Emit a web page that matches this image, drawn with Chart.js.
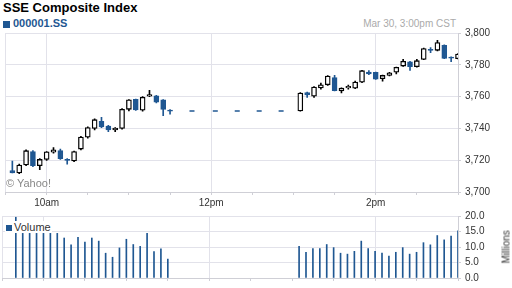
<!DOCTYPE html>
<html>
<head>
<meta charset="utf-8">
<script src="https://cdn.jsdelivr.net/npm/chart.js@4.4.1/dist/chart.umd.min.js"></script>
<style>
  html, body { margin: 0; padding: 0; background: #fff; }
  body { width: 512px; height: 288px; position: relative; overflow: hidden; font-family: 'Liberation Sans', Arial, sans-serif; }
  .abs { position: absolute; white-space: nowrap; }
  #title { left: 3px; top: 0; font-size: 13px; font-weight: bold; line-height: 15px; color: #000; }
  #sym { left: 13px; top: 17px; font-size: 11px; font-weight: bold; line-height: 13px; color: #1f5792; }
  #symBox { left: 3px; top: 21px; width: 7px; height: 7px; background: #1f5792; }
  #stamp { right: 56px; top: 18px; font-size: 10px; line-height: 12px; color: #aaa; }
  #yahoo { left: 6px; top: 177px; font-size: 11px; line-height: 13px; color: #888; }
  #volLeg { left: 5px; top: 221px; padding: 0 1px; background: #fff; font-size: 11px; line-height: 12px; color: #333; }
  #volLeg i { display: inline-block; width: 6px; height: 6px; background: #1f5792; margin-right: 2px; vertical-align: 0; }
  #mil { left: 490px; top: 241px; width: 33px; font-size: 10px; line-height: 12px; color: #333; transform: rotate(-90deg); text-align: center; }
  canvas { position: absolute; left: 0; }
</style>
</head>
<body>
<div class="abs" id="title">SSE Composite Index</div>
<div class="abs" id="symBox"></div>
<div class="abs" id="sym">000001.SS</div>
<div class="abs" id="stamp">Mar 30, 3:00pm CST</div>
<div style="position:absolute;left:0;top:0;width:512px;height:210px"><canvas id="price"></canvas></div>
<div style="position:absolute;left:0;top:205px;width:512px;height:83px"><canvas id="vol"></canvas></div>
<div class="abs" id="yahoo">© Yahoo!</div>
<div class="abs" id="volLeg"><i></i>Volume</div>
<div class="abs" id="mil">Millions</div>
<script>
// ========== DATA ==========
// minutes after 9:30 (5-minute candles; lunch break 11:30 - 13:00)
const candleMin = [5, 10, 15, 20, 25, 30, 35, 40, 45, 50, 55, 60, 65, 70, 75, 80, 85, 90, 95, 100, 105, 110, 115, 120,
                   215, 220, 225, 230, 235, 240, 245, 250, 255, 260, 265, 270, 275, 280, 285, 290, 295, 300, 305, 310, 315, 320, 325, 330];
const opens  = [3713.5, 3712, 3717, 3725.5, 3716.5, 3720.5, 3725, 3726, 3720.5, 3719.5, 3727, 3734.5, 3740, 3744.5, 3741.5, 3739, 3740, 3752, 3758.3, 3751.5, 3760.2, 3760.5, 3758, 3751.6,
                3751, 3762.5, 3760.2, 3765.4, 3767.4, 3772, 3763.6, 3765.5, 3765.3, 3769.1, 3775.5, 3775.2, 3771.2, 3773.3, 3775.4, 3779.2, 3781.9, 3778.8, 3783.4, 3789.8, 3789.1, 3792.3, 3784.8, 3783.9];
const highs  = [3719.5, 3717.5, 3726.5, 3726, 3721, 3725.5, 3728, 3727, 3721, 3725.8, 3735, 3741, 3746, 3747, 3742, 3740.5, 3752.5, 3758.2, 3758.5, 3760, 3764, 3760.8, 3758.2, 3751.8,
                3762.5, 3762.8, 3766.3, 3768.5, 3773.2, 3773.3, 3765.5, 3767.2, 3769.8, 3776.5, 3776.3, 3775.4, 3773.5, 3775.3, 3778.6, 3783.4, 3782.2, 3783.5, 3790.5, 3790.8, 3795.4, 3792.5, 3785, 3787];
const lows   = [3712, 3711.5, 3716.5, 3716, 3714, 3719.8, 3724.5, 3720.5, 3717.5, 3719, 3726.5, 3733.8, 3739, 3740.5, 3738, 3738, 3739.5, 3751, 3751.3, 3750.8, 3760, 3756, 3748, 3749,
                3750.8, 3759.5, 3759.5, 3764.7, 3767, 3763.5, 3762.3, 3764.7, 3765, 3768.8, 3773.8, 3770.8, 3769.7, 3773, 3774.2, 3779, 3776.5, 3778.5, 3783.2, 3787.7, 3788.8, 3783.8, 3782, 3783.7];
const closes = [3712, 3717, 3726, 3716.5, 3720.5, 3725.3, 3726.5, 3721, 3719.8, 3725.5, 3734.5, 3740.5, 3745.5, 3741, 3739, 3740.2, 3752, 3758, 3751.6, 3759.5, 3761.2, 3756.5, 3752, 3750.8,
                3762.2, 3761, 3766, 3767.4, 3772.9, 3763.8, 3765.3, 3766.5, 3769.1, 3776.3, 3774.2, 3771, 3773.3, 3775, 3778.4, 3782.2, 3778.8, 3782.6, 3790.2, 3789, 3794, 3784, 3784.2, 3786.8];

// flat quotes during the lunch break
const lunchMin = [136, 153, 169, 185, 201];
const lunchPrice = [3751, 3751, 3751, 3751, 3751];

// volume, millions
const volMin = [10, 15, 20, 25, 30, 35, 40, 45, 50, 55, 60, 65, 70, 75, 80, 85, 90, 95, 100, 105, 110, 115, 120,
                215, 220, 225, 230, 235, 240, 245, 250, 255, 260, 265, 270, 275, 280, 285, 290, 295, 300, 305, 310, 315, 320, 325, 330];
const volumes = [19.6, 14.4, 14.4, 14.4, 14.4, 14.4, 14.4, 12.9, 10.7, 13.1, 11.6, 12.9, 11.9, 8.0, 6.7, 9.7, 12.5, 10.8, 10.2, 14.4, 8.5, 9.4, 6.1,
                 10.2, 8.3, 9.5, 9.5, 10.8, 9.8, 8.0, 7.7, 8.6, 11.9, 9.5, 8.6, 8.0, 7.1, 8.3, 9.8, 7.7, 8.3, 11.4, 10.7, 13.7, 12.3, 13.5, 15.2];

const timeLabels = { 30: '10am', 150: '12pm', 270: '2pm' };
const priceTicks = [3700, 3720, 3740, 3760, 3780, 3800];

// ========== STYLE ==========
const BLUE = '#1f5792';
const GRID = '#e2e2ea';
const FRAME = '#cfcfd6';

Chart.defaults.font.family = "'Liberation Sans', Arial, sans-serif";
Chart.defaults.font.size = 10;
Chart.defaults.color = '#333';
Chart.defaults.animation = false;

const up = opens.map((o, i) => closes[i] >= o);

function xAxis(showLabels, height) {
    return {
        type: 'linear', min: 0, max: 330, offset: false,
        afterBuildTicks: s => { s.ticks = []; for (let v = 0; v <= 330; v += 30) s.ticks.push({ value: v }); },
        afterFit: s => { s.height = height; },
        grid: {
            offset: false,
            color: c => (c.tick && (timeLabels[c.tick.value] || c.tick.value === 0 || c.tick.value === 330)) ? GRID : 'rgba(0,0,0,0)',
            tickColor: FRAME, tickLength: 3
        },
        border: { color: FRAME },
        ticks: { display: showLabels, autoSkip: false, maxRotation: 0, padding: 2, callback: v => timeLabels[v] || '' }
    };
}

// ========== PRICE CHART ==========
new Chart(document.getElementById('price'), {
    type: 'bar',
    data: {
        datasets: [
            {
                label: 'body', grouped: false, barThickness: 5, borderWidth: 1.3, borderSkipped: false, clip: 0,
                data: candleMin.map((m, i) => ({ x: m, y: [opens[i], closes[i]] })),
                backgroundColor: c => up[c.dataIndex] ? '#fff' : BLUE,
                borderColor: c => up[c.dataIndex] ? '#000' : BLUE
            },
            {
                label: 'wick', grouped: false, barThickness: 1, borderWidth: 0, clip: 0,
                data: candleMin.map((m, i) => ({ x: m, y: [lows[i], highs[i]] })),
                backgroundColor: c => up[c.dataIndex] ? '#000' : BLUE
            },
            {
                type: 'line', label: 'lunch', showLine: false,
                data: lunchMin.map((m, i) => ({ x: m, y: lunchPrice[i] })),
                pointStyle: 'line', pointRadius: 2.5, pointBorderWidth: 1.5, pointBorderColor: BLUE, borderColor: BLUE
            }
        ]
    },
    options: {
        responsive: true, maintainAspectRatio: false,
        layout: { padding: { left: 2, top: 33, right: 0, bottom: 0 } },
        plugins: { legend: { display: false }, tooltip: { enabled: false } },
        scales: {
            x: xAxis(true, 18),
            y: {
                position: 'right', min: 3700, max: 3800,
                afterBuildTicks: s => { s.ticks = priceTicks.map(v => ({ value: v })); },
                afterFit: s => { s.width = 54; },
                grid: { color: GRID, tickColor: FRAME, tickLength: 3 },
                border: { color: FRAME },
                ticks: { padding: 4, callback: v => v.toLocaleString('en-US') }
            }
        }
    }
});

// ========== VOLUME CHART ==========
new Chart(document.getElementById('vol'), {
    type: 'bar',
    data: {
        datasets: [{
            label: 'Volume', barThickness: 1, backgroundColor: BLUE,
            data: volMin.map((m, i) => ({ x: m, y: volumes[i] }))
        }]
    },
    options: {
        responsive: true, maintainAspectRatio: false,
        layout: { padding: { left: 2, top: 11, right: 0, bottom: 0 } },
        plugins: { legend: { display: false }, tooltip: { enabled: false } },
        scales: {
            x: xAxis(false, 7),
            y: {
                position: 'right', min: 0, max: 20,
                afterBuildTicks: s => { s.ticks = [0, 5, 10, 15, 20].map(v => ({ value: v })); },
                afterFit: s => { s.width = 54; },
                grid: { color: GRID, tickColor: FRAME, tickLength: 3 },
                border: { color: FRAME },
                ticks: { padding: 4, callback: v => v.toFixed(1) }
            }
        }
    }
});
</script>
</body>
</html>
